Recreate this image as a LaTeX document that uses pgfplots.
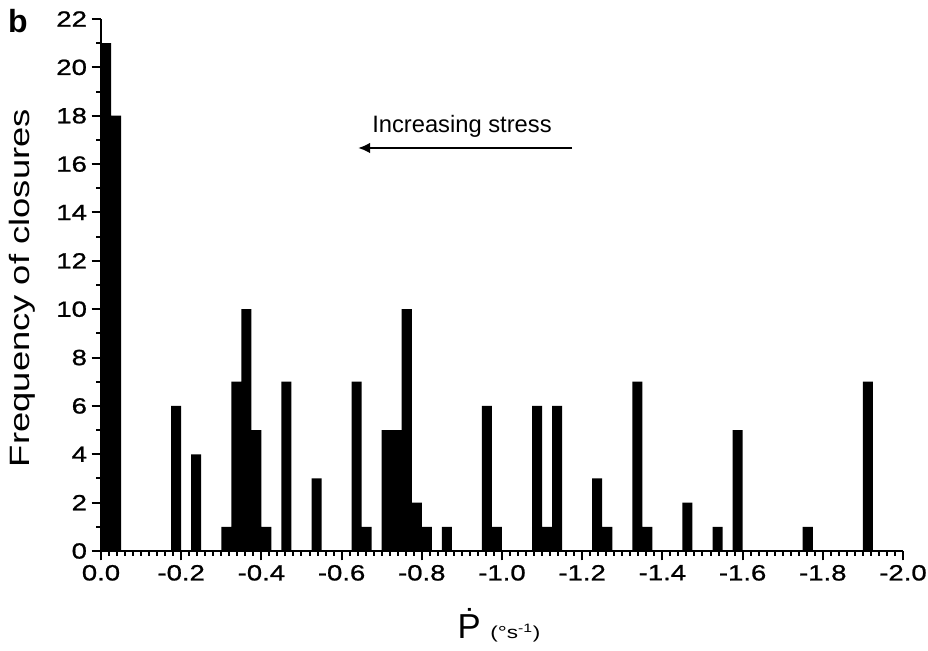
\documentclass[border=0pt]{standalone}
\usepackage{pgfplots}
\pgfplotsset{compat=1.18}
\usepackage{fontspec}
\setmainfont{Liberation Sans}
\newfontfamily\tickfont{Liberation Sans}[FakeStretch=1.25, FakeBold=1]
\newfontfamily\labfont{Liberation Sans}[FakeStretch=1.3]
\usetikzlibrary{arrows.meta}
\begin{document}
\begin{tikzpicture}
\begin{axis}[
  scale only axis,
  width=601.5pt, height=399pt,
  at={(0,0)}, anchor=south west,
  x dir=reverse,
  xmin=-2, xmax=0, ymin=0, ymax=22,
  axis x line*=bottom, axis y line*=left,
  axis line style={line width=2pt, black},
  tick align=outside,
  major tick length=7pt, minor tick length=3.5pt,
  every tick/.style={black, line width=1.5pt},
  xtick={0,-0.2,-0.4,-0.6,-0.8,-1.0,-1.2,-1.4,-1.6,-1.8,-2.0},
  ytick={0,2,...,22},
  minor x tick num=9, minor y tick num=1,
  /pgf/number format/assume math mode=true,
  xticklabel style={font=\tickfont\fontsize{16.5}{16.5}\selectfont},
  yticklabel style={font=\tickfont\fontsize{16.5}{16.5}\selectfont},
  xticklabel={\pgfmathprintnumber[fixed, fixed zerofill, precision=1, assume math mode=true]{\tick}},
  ybar, bar width=0.025, bar shift=0pt,
]
\addplot[fill=black, draw=none] coordinates {
(-0.0125,21) (-0.0375,18) (-0.1875,6) (-0.2375,4)
(-0.3125,1) (-0.3375,7) (-0.3625,10) (-0.3875,5) (-0.4125,1)
(-0.4625,7) (-0.5375,3) (-0.6375,7) (-0.6625,1)
(-0.7125,5) (-0.7375,5) (-0.7625,10) (-0.7875,2) (-0.8125,1)
(-0.8625,1) (-0.9625,6) (-0.9875,1)
(-1.0875,6) (-1.1125,1) (-1.1375,6)
(-1.2375,3) (-1.2625,1) (-1.3375,7) (-1.3625,1)
(-1.4625,2) (-1.5375,1) (-1.5875,5) (-1.7625,1) (-1.9125,7)
};
\end{axis}
% annotations
\node[font=\bfseries\fontsize{24}{24}\selectfont] at (-62.25pt,397.5pt) {b};
\node[font=\labfont\fontsize{21}{21}\selectfont, rotate=90] at (-58.9pt,197.25pt) {Frequency of closures};
\node[anchor=base, inner sep=0pt] at (298.5pt,-65.25pt) {\fontsize{26}{26}\selectfont Ṗ\ \labfont\fontsize{13}{13}\selectfont (°s\textsuperscript{-1})};
\node[anchor=base west, inner sep=0pt, font=\fontsize{17.8}{17.8}\selectfont] at (203.25pt,313.5pt) {Increasing stress};
\draw[line width=1.8pt, -{Latex[length=9pt,width=8pt]}] (353.25pt,302.25pt) -- (192.75pt,302.25pt);
\pgfresetboundingbox
\path (-75.75pt,-74.25pt) rectangle (620.25pt,413.25pt);
\end{tikzpicture}
\end{document}
